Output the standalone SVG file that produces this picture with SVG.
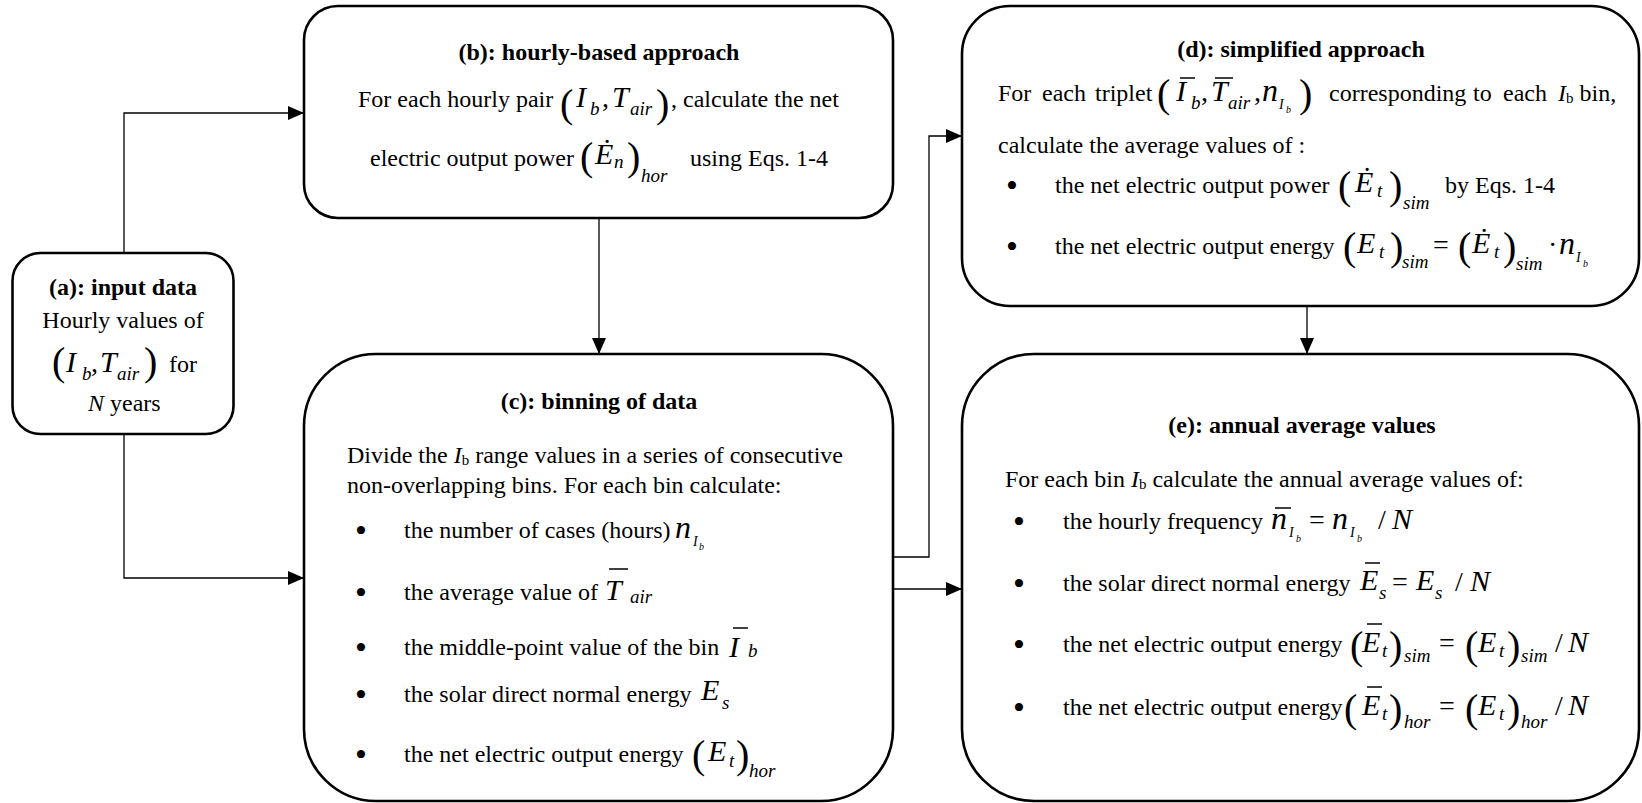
<svg xmlns="http://www.w3.org/2000/svg" width="1642" height="803" viewBox="0 0 1642 803">
<defs>
<style>
.box{fill:#fff;stroke:#000;stroke-width:2.6}
.cn{fill:none;stroke:#000;stroke-width:1.3}
text{font-family:"Liberation Serif","Times New Roman",serif;fill:#000}
.t{font-size:24px}
.h{font-size:24px;font-weight:bold;text-anchor:middle}
.i{font-style:italic}
.m{font-size:30px;font-style:italic}
.n{font-size:32px;font-style:italic}
.s{font-size:19px;font-style:italic}
.ss{font-size:14px;font-style:italic}
.sss{font-size:10px;font-style:italic}
.p{font-size:40px}
.o{font-size:28px}
.bl{font-size:34px;text-anchor:middle}
.bar{stroke:#000;stroke-width:1.5}
</style>
<marker id="ah" markerUnits="userSpaceOnUse" markerWidth="16" markerHeight="14" viewBox="0 0 16 14" refX="16" refY="7" orient="auto">
<path d="M0,0 L16,7 L0,14 z" fill="#000"/>
</marker>
</defs>
<rect width="1642" height="803" fill="#fff"/>

<g id="node-a">
<rect class="box" x="12.5" y="253" width="221" height="181" rx="28"/>
<text class="h" x="123" y="295">(a): input data</text>
<text class="t" x="123" y="328" text-anchor="middle">Hourly values of</text>
<text class="p" x="52" y="375">(</text>
<text class="m" x="66" y="372">I</text>
<text class="s" x="82" y="380">b</text>
<text class="o" x="91" y="372">,</text>
<text class="m" x="100" y="372">T</text>
<text class="s" x="117" y="380">air</text>
<text class="p" x="144" y="375">)</text>
<text class="t" x="169" y="372">for</text>
<text class="t" x="88" y="411"><tspan class="i">N</tspan> years</text>
</g>

<g id="node-b">
<rect class="box" x="304" y="6" width="589" height="212" rx="34"/>
<text class="h" x="599" y="60">(b): hourly-based approach</text>
<text class="t" x="358" y="107">For each hourly pair</text>
<text class="p" x="560" y="117">(</text>
<text class="m" x="576" y="107" font-size="32">I</text>
<text class="s" x="590" y="115">b</text>
<text class="o" x="602" y="107">,</text>
<text class="m" x="612" y="107" font-size="32">T</text>
<text class="s" x="630" y="115">air</text>
<text class="p" x="656" y="117">)</text>
<text class="t" x="671" y="107">, calculate the net</text>
<text class="t" x="370" y="166">electric output power</text>
<text class="p" x="580" y="170">(</text>
<text class="m" x="595" y="164">Ė</text>
<text class="s" x="614" y="168">n</text>
<text class="p" x="627" y="170">)</text>
<text class="s" x="641" y="182">hor</text>
<text class="t" x="690" y="166">using Eqs. 1-4</text>
</g>

<g id="node-c">
<rect class="box" x="304" y="354" width="589" height="447" rx="72"/>
<text class="h" x="599" y="409">(c): binning of data</text>
<text class="t" x="347" y="463">Divide the <tspan class="i">I</tspan><tspan font-size="15" dy="2">b</tspan><tspan dy="-2"> range values in a series of consecutive</tspan></text>
<text class="t" x="347" y="493">non-overlapping bins. For each bin calculate:</text>
<text class="bl" x="361" y="542">•</text>
<text class="bl" x="361" y="604">•</text>
<text class="bl" x="361" y="659">•</text>
<text class="bl" x="361" y="706">•</text>
<text class="bl" x="361" y="766">•</text>
<text class="t" x="404" y="538">the number of cases (hours)</text>
<text class="n" x="675" y="538">n</text>
<text class="ss" x="693" y="546">I</text>
<text class="sss" x="699" y="550">b</text>
<text class="t" x="404" y="600">the average value of</text>
<text class="m" x="605" y="600" font-size="36">T</text>
<line class="bar" x1="609" y1="569" x2="628" y2="569"/>
<text class="s" x="630" y="603">air</text>
<text class="t" x="404" y="655">the middle-point value of the bin</text>
<text class="m" x="729" y="657" font-size="32">I</text>
<line class="bar" x1="733" y1="628" x2="748" y2="628"/>
<text class="s" x="748" y="657" font-size="22">b</text>
<text class="t" x="404" y="702">the solar direct normal energy</text>
<text class="m" x="701" y="700">E</text>
<text class="s" x="722" y="709">s</text>
<text class="t" x="404" y="762">the net electric output energy</text>
<text class="p" x="692" y="768">(</text>
<text class="m" x="708" y="761">E</text>
<text class="s" x="729" y="767">t</text>
<text class="p" x="736" y="768">)</text>
<text class="s" x="749" y="777">hor</text>
</g>

<g id="node-d">
<rect class="box" x="962" y="6" width="677" height="300" rx="48"/>
<text class="h" x="1301" y="57">(d): simplified approach</text>
<text class="t" x="998" y="101">For</text>
<text class="t" x="1042" y="101">each</text>
<text class="t" x="1095" y="101">triplet</text>
<text class="p" x="1157" y="107">(</text>
<text class="m" x="1176" y="101">I</text>
<line class="bar" x1="1180" y1="78" x2="1195" y2="78"/>
<text class="s" x="1191" y="109">b</text>
<text class="o" x="1201" y="101">,</text>
<text class="m" x="1211" y="101">T</text>
<line class="bar" x1="1215" y1="78" x2="1233" y2="78"/>
<text class="s" x="1228" y="109">air</text>
<text class="o" x="1254" y="101">,</text>
<text class="n" x="1262" y="101">n</text>
<text class="ss" x="1279" y="109">I</text>
<text class="sss" x="1286" y="113">b</text>
<text class="p" x="1299" y="107">)</text>
<text class="t" x="1329" y="101">corresponding</text>
<text class="t" x="1473" y="101">to</text>
<text class="t" x="1503" y="101">each</text>
<text class="t" x="1558" y="101"><tspan class="i">I</tspan><tspan font-size="15" dy="2">b</tspan><tspan dy="-2"> bin,</tspan></text>
<text class="t" x="998" y="153">calculate the average values of :</text>
<text class="bl" x="1012" y="197">•</text>
<text class="t" x="1055" y="193">the net electric output power</text>
<text class="p" x="1338" y="199">(</text>
<text class="m" x="1355" y="192">Ė</text>
<text class="s" x="1377" y="197">t</text>
<text class="p" x="1389" y="199">)</text>
<text class="s" x="1403" y="209">sim</text>
<text class="t" x="1445" y="193">by Eqs. 1-4</text>
<text class="bl" x="1012" y="258">•</text>
<text class="t" x="1055" y="254">the net electric output energy</text>
<text class="p" x="1343" y="260">(</text>
<text class="m" x="1357" y="253">E</text>
<text class="s" x="1379" y="258">t</text>
<text class="p" x="1390" y="260">)</text>
<text class="s" x="1402" y="268">sim</text>
<text class="o" x="1433" y="254">=</text>
<text class="p" x="1458" y="260">(</text>
<text class="m" x="1472" y="253">Ė</text>
<text class="s" x="1494" y="258">t</text>
<text class="p" x="1503" y="260">)</text>
<text class="s" x="1516" y="270">sim</text>
<text class="o" x="1548" y="254">·</text>
<text class="n" x="1559" y="254">n</text>
<text class="ss" x="1576" y="262">I</text>
<text class="sss" x="1583" y="267">b</text>
</g>

<g id="node-e">
<rect class="box" x="962" y="354" width="677" height="447" rx="72"/>
<text class="h" x="1302" y="433">(e): annual average values</text>
<text class="t" x="1005" y="487">For each bin <tspan class="i">I</tspan><tspan font-size="15" dy="2">b</tspan><tspan dy="-2"> calculate the annual average values of:</tspan></text>
<text class="bl" x="1019" y="533">•</text>
<text class="bl" x="1019" y="595">•</text>
<text class="bl" x="1019" y="656">•</text>
<text class="bl" x="1019" y="719">•</text>
<text class="t" x="1063" y="529">the hourly frequency</text>
<text class="n" x="1271" y="529">n</text>
<line class="bar" x1="1275" y1="508" x2="1291" y2="508"/>
<text class="ss" x="1289" y="537">I</text>
<text class="sss" x="1296" y="542">b</text>
<text class="o" x="1309" y="529">=</text>
<text class="n" x="1332" y="529">n</text>
<text class="ss" x="1350" y="537">I</text>
<text class="sss" x="1357" y="542">b</text>
<text class="o" x="1378" y="529">/</text>
<text class="m" x="1392" y="529">N</text>
<text class="t" x="1063" y="591">the solar direct normal energy</text>
<text class="m" x="1360" y="590">E</text>
<line class="bar" x1="1365" y1="563" x2="1380" y2="563"/>
<text class="s" x="1379" y="599">s</text>
<text class="o" x="1392" y="591">=</text>
<text class="m" x="1416" y="590">E</text>
<text class="s" x="1435" y="599">s</text>
<text class="o" x="1455" y="591">/</text>
<text class="m" x="1470" y="591">N</text>
<text class="t" x="1063" y="652">the net electric output energy</text>
<text class="p" x="1350" y="659">(</text>
<text class="m" x="1362" y="652">E</text>
<line class="bar" x1="1367" y1="624" x2="1382" y2="624"/>
<text class="s" x="1382" y="657">t</text>
<text class="p" x="1389" y="659">)</text>
<text class="s" x="1404" y="662">sim</text>
<text class="o" x="1439" y="652">=</text>
<text class="p" x="1465" y="659">(</text>
<text class="m" x="1478" y="652">E</text>
<text class="s" x="1499" y="657">t</text>
<text class="p" x="1507" y="659">)</text>
<text class="s" x="1521" y="662">sim</text>
<text class="o" x="1555" y="652">/</text>
<text class="m" x="1568" y="652">N</text>
<text class="t" x="1063" y="715">the net electric output energy</text>
<text class="p" x="1344" y="722">(</text>
<text class="m" x="1362" y="715">E</text>
<line class="bar" x1="1367" y1="687" x2="1382" y2="687"/>
<text class="s" x="1382" y="720">t</text>
<text class="p" x="1389" y="722">)</text>
<text class="s" x="1404" y="728">hor</text>
<text class="o" x="1439" y="715">=</text>
<text class="p" x="1465" y="722">(</text>
<text class="m" x="1478" y="715">E</text>
<text class="s" x="1499" y="720">t</text>
<text class="p" x="1507" y="722">)</text>
<text class="s" x="1521" y="728">hor</text>
<text class="o" x="1555" y="715">/</text>
<text class="m" x="1568" y="715">N</text>
</g>

<g id="connectors">
<path class="cn" d="M124,253 V113 H304" marker-end="url(#ah)"/>
<path class="cn" d="M124,434 V578 H304" marker-end="url(#ah)"/>
<path class="cn" d="M599,218 V354" marker-end="url(#ah)"/>
<path class="cn" d="M893,557 H929 V136 H962" marker-end="url(#ah)"/>
<path class="cn" d="M893,589 H962" marker-end="url(#ah)"/>
<path class="cn" d="M1307,306 V354" marker-end="url(#ah)"/>
</g>
</svg>
